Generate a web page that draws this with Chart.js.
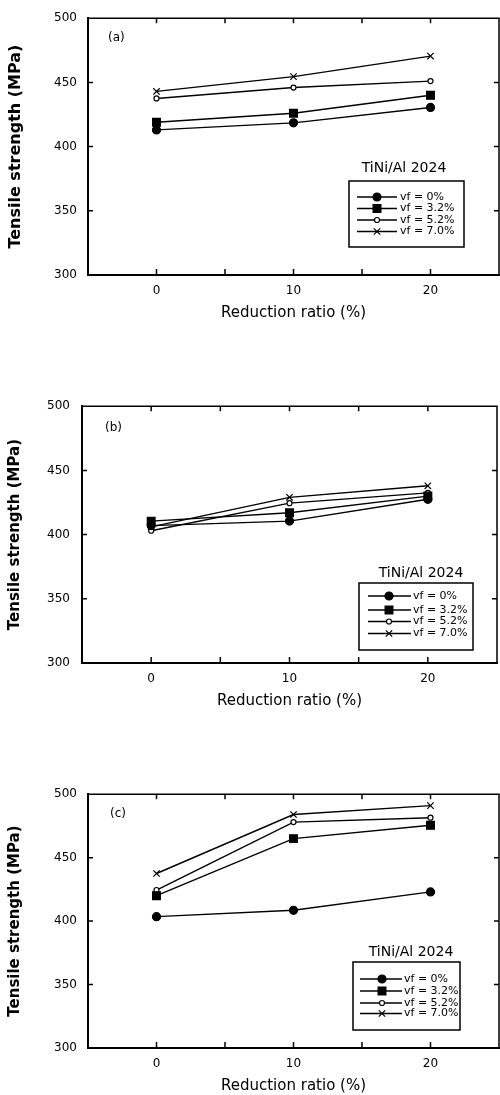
<!DOCTYPE html>
<html>
<head>
<meta charset="UTF-8" />
<title>Tensile strength vs reduction ratio</title>
<style>
  body { margin: 0; background: #fff; width: 500px; height: 1095px; overflow: hidden; position: relative; }
  canvas { position: absolute; left: 0; }
</style>
</head>
<body>
<canvas id="chartA" width="500" height="322" style="top:0px"></canvas>
<canvas id="chartB" width="500" height="323" style="top:387px"></canvas>
<canvas id="chartC" width="500" height="319" style="top:776px"></canvas>
<script src="https://cdn.jsdelivr.net/npm/chart.js@4.4.1/dist/chart.umd.min.js"></script>
<script>
// reduction ratio (%) on x, tensile strength (MPa) on y
const reduction = [0, 10, 20];
const xTickLabels = [0, 10, 20];
const seriesLabels = ["vf = 0%", "vf = 3.2%", "vf = 5.2%", "vf = 7.0%"];
const legendTitle = "TiNi/Al 2024";

// panel (a)
const a_vf0 = [413, 418.5, 430.5];
const a_vf32 = [419, 426, 440];
const a_vf52 = [437.5, 446, 451];
const a_vf70 = [443, 454.5, 470.5];

// panel (b)
const b_vf0 = [407, 410.5, 427.5];
const b_vf32 = [410.5, 417, 430];
const b_vf52 = [403, 424.5, 432.5];
const b_vf70 = [406, 429, 438];

// panel (c)
const c_vf0 = [403.5, 408.5, 423];
const c_vf32 = [420, 465, 475.5];
const c_vf52 = [424.5, 478, 481.5];
const c_vf70 = [437.5, 484, 491];

const marks = [
  { style: "circle", r: 4, fill: "#000" },
  { style: "rect", r: 5.5, fill: "#000" },
  { style: "circle", r: 2.5, fill: "#fff" },
  { style: "crossRot", r: 4.5, fill: "#000" }
];

function drawMarker(ctx, m, x, y) {
  ctx.beginPath();
  if (m.style === "circle") {
    ctx.arc(x, y, m.r, 0, Math.PI * 2);
    ctx.fillStyle = m.fill; ctx.fill(); ctx.stroke();
  } else if (m.style === "rect") {
    const s = m.r * Math.SQRT1_2;
    ctx.rect(x - s, y - s, 2 * s, 2 * s);
    ctx.fillStyle = m.fill; ctx.fill(); ctx.stroke();
  } else {
    const s = m.r * Math.SQRT1_2;
    ctx.moveTo(x - s, y - s); ctx.lineTo(x + s, y + s);
    ctx.moveTo(x - s, y + s); ctx.lineTo(x + s, y - s);
    ctx.stroke();
  }
}

function makeChart(id, series, cfg) {
  const deco = {
    id: "deco" + id,
    afterDraw(chart) {
      const ctx = chart.ctx, a = chart.chartArea;
      const xs = chart.scales.x, ys = chart.scales.y;
      ctx.save();
      ctx.strokeStyle = "#000";
      // top and right frame
      ctx.lineWidth = 1.5;
      ctx.beginPath();
      ctx.moveTo(a.left, a.top); ctx.lineTo(a.right, a.top); ctx.lineTo(a.right, a.bottom);
      ctx.stroke();
      // inward ticks on all sides
      ctx.beginPath();
      xs.ticks.forEach(t => {
        if (t.value <= xs.min || t.value >= xs.max) return;
        const px = xs.getPixelForValue(t.value);
        ctx.moveTo(px, a.bottom); ctx.lineTo(px, a.bottom - 6);
        ctx.moveTo(px, a.top); ctx.lineTo(px, a.top + 5);
      });
      ys.ticks.forEach(t => {
        if (t.value <= ys.min || t.value >= ys.max) return;
        const py = ys.getPixelForValue(t.value);
        ctx.moveTo(a.left, py); ctx.lineTo(a.left + 5, py);
        ctx.moveTo(a.right, py); ctx.lineTo(a.right - 5, py);
      });
      ctx.stroke();
      // panel tag
      ctx.fillStyle = "#000";
      ctx.font = "12px 'DejaVu Sans'";
      ctx.textAlign = "left"; ctx.textBaseline = "middle";
      ctx.fillText(cfg.tag, a.left + cfg.tagDx, a.top + cfg.tagDy);
      // legend box
      const b = cfg.box;
      ctx.lineWidth = 1.5;
      ctx.strokeRect(b[0], b[1], b[2] - b[0], b[3] - b[1]);
      ctx.font = "14px 'DejaVu Sans'";
      ctx.textAlign = "center";
      ctx.fillText(legendTitle, cfg.titlePos[0], cfg.titlePos[1]);
      ctx.font = "11px 'DejaVu Sans'";
      ctx.textAlign = "left";
      chart.data.datasets.forEach((ds, k) => {
        const y = cfg.rows[k];
        ctx.lineWidth = 1.4;
        ctx.beginPath();
        ctx.moveTo(cfg.line[0], y); ctx.lineTo(cfg.line[1], y);
        ctx.stroke();
        ctx.lineWidth = 1.2;
        drawMarker(ctx, marks[k], cfg.markX, y);
        ctx.fillStyle = "#000";
        ctx.fillText(ds.label, cfg.textX, y);
      });
      ctx.restore();
    }
  };

  const tickFont = { family: "DejaVu Sans", size: 12 };
  return new Chart(document.getElementById(id), {
    type: "line",
    data: {
      datasets: series.map((vals, k) => ({
        label: seriesLabels[k],
        data: reduction.map((x, i) => ({ x: x, y: vals[i] })),
        borderColor: "#000",
        borderWidth: 1.4,
        pointStyle: marks[k].style,
        pointRadius: marks[k].r,
        pointBackgroundColor: marks[k].fill,
        pointBorderColor: "#000",
        pointBorderWidth: 1.2,
        tension: 0
      }))
    },
    options: {
      responsive: false,
      animation: false,
      devicePixelRatio: 1,
      layout: { autoPadding: false, padding: { top: 12, right: cfg.padRight, bottom: 0, left: 0 } },
      plugins: { legend: { display: false }, tooltip: { enabled: false } },
      scales: {
        x: {
          type: "linear", min: -5, max: 25,
          afterFit(s) { s.height = 47; s.paddingLeft = 0; s.paddingRight = 0; },
          grid: { display: false, drawTicks: false },
          border: { display: true, color: "#000", width: 2 },
          ticks: {
            stepSize: 5, autoSkip: false, padding: 9, color: "#000", font: tickFont,
            callback: v => (xTickLabels.includes(v) ? String(v) : "")
          },
          title: {
            display: true, text: "Reduction ratio (%)", color: "#000",
            font: { family: "DejaVu Sans", size: 15 }, padding: { top: 0, bottom: 0 }
          }
        },
        y: {
          min: 300, max: 500,
          afterFit(s) { s.width = cfg.yWidth; },
          grid: { display: false, drawTicks: false },
          border: { display: true, color: "#000", width: 2 },
          ticks: { stepSize: 50, padding: cfg.yPad, color: "#000", font: tickFont },
          title: {
            display: true, text: "Tensile strength (MPa)", color: "#000",
            font: { family: "DejaVu Sans", size: cfg.yTitleSize, weight: "bold" },
            padding: { top: 6, bottom: 0 }
          }
        }
      }
    },
    plugins: [deco]
  });
}

makeChart("chartA", [a_vf0, a_vf32, a_vf52, a_vf70], {
  yWidth: 88, padRight: 1, yPad: 11, yTitleSize: 16,
  tag: "(a)", tagDx: 20, tagDy: 20,
  box: [349, 181, 464, 247], titlePos: [404, 168],
  rows: [197, 208.5, 220, 231.5], line: [357, 397], markX: 377, textX: 400
});

makeChart("chartB", [b_vf0, b_vf32, b_vf52, b_vf70], {
  yWidth: 82, padRight: 3, yPad: 12, yTitleSize: 15,
  tag: "(b)", tagDx: 23, tagDy: 22,
  box: [359, 196, 473, 263], titlePos: [421, 186.5],
  rows: [209, 223, 234.5, 246.5], line: [368, 411], markX: 389, textX: 413
});

makeChart("chartC", [c_vf0, c_vf32, c_vf52, c_vf70], {
  yWidth: 88, padRight: 1, yPad: 11, yTitleSize: 15,
  tag: "(c)", tagDx: 22, tagDy: 20,
  box: [353, 186, 460, 254], titlePos: [411, 176],
  rows: [203, 215, 227, 237.5], line: [360, 402], markX: 382, textX: 404
});
</script>
</body>
</html>
